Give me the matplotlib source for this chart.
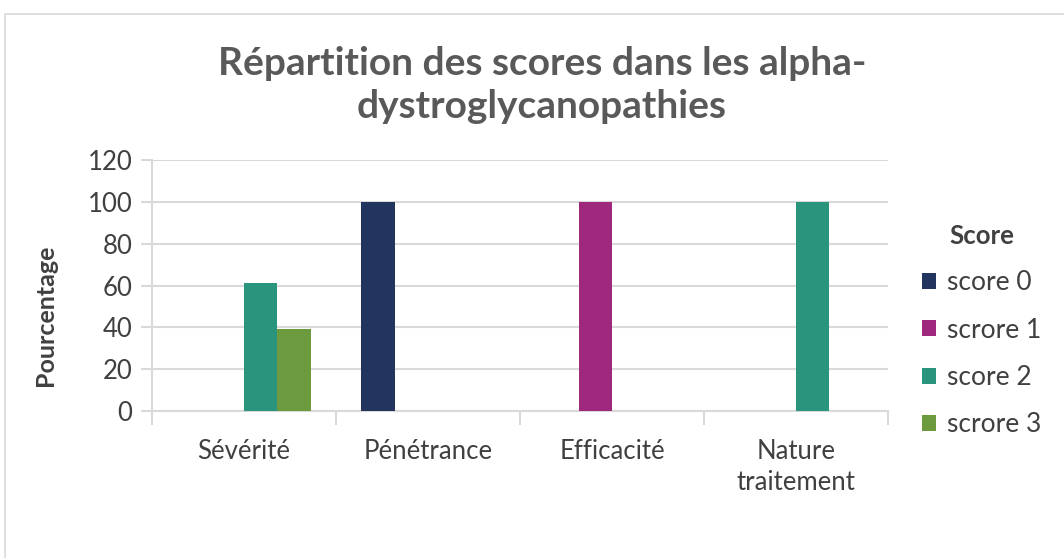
import matplotlib
matplotlib.use("Agg")
import matplotlib.pyplot as plt
import numpy as np
from matplotlib.patches import Rectangle

categories = ["Sévérité", "Pénétrance", "Efficacité", "Nature\ntraitement"]
series_names = ["score 0", "scrore 1", "score 2", "scrore 3"]
score0 = [0, 100, 0, 0]
score1 = [0, 0, 100, 0]
score2 = [61, 0, 0, 100]
score3 = [39, 0, 0, 0]
yticks = [0, 20, 40, 60, 80, 100, 120]
colors = ["#22355E", "#9E287B", "#2A947C", "#6B9A3F"]

plt.rcParams['font.family'] = ['Lato', 'DejaVu Sans']

W, H = 1064, 558
fig = plt.figure(figsize=(W / 100, H / 100), dpi=100)

# outer chart border
fig.patches.append(Rectangle((5 / W, -0.1), 1.2, 1 - 14 / H + 0.1,
                             transform=fig.transFigure, fill=False,
                             edgecolor="#D9D9D9", linewidth=1.2))

ax = fig.add_axes([152 / W, 1 - 411 / H, (888 - 152) / W, (411 - 160) / H])

x = np.arange(len(categories))
bw = 0.182
data = [score0, score1, score2, score3]
for i, (vals, name, c) in enumerate(zip(data, series_names, colors)):
    ax.bar(x + (i - 1.5) * bw, vals, width=bw, color=c, label=name, zorder=3)

ax.set_xlim(-0.5, len(categories) - 0.5)
ax.set_ylim(0, 120)
ax.set_yticks(yticks)
ax.set_yticklabels([str(v) for v in yticks])
ax.grid(axis="y", color="#D9D9D9", linewidth=1.5, zorder=0)
ax.tick_params(axis="y", length=8, width=1.5, color="#D9D9D9", pad=6,
               labelsize=18.5, labelcolor="#404040")

ax.set_xticks(x)
ax.set_xticklabels(categories, fontsize=18.5, color="#404040", linespacing=1.3)
ax.tick_params(axis="x", which="major", length=0, pad=20)
ax.set_xticks(np.arange(-0.5, len(categories)), minor=True)
ax.tick_params(axis="x", which="minor", length=10, width=1.5, color="#D9D9D9")

for s in ["top", "right"]:
    ax.spines[s].set_visible(False)
ax.spines["left"].set_color("#D9D9D9")
ax.spines["left"].set_linewidth(1.5)
ax.spines["bottom"].set_color("#D9D9D9")
ax.spines["bottom"].set_linewidth(1.5)

ax.set_ylabel("Pourcentage", fontsize=18, fontweight="bold", color="#404040")
ax.yaxis.set_label_coords((57 - 152) / (888 - 152), (411 - 315) / (411 - 160))

fig.text(542 / W, 1 - 85 / H, "Répartition des scores dans les alpha-\ndystroglycanopathies",
         ha="center", va="center", fontsize=28, fontweight="bold", color="#595959",
         linespacing=1.27)

leg = ax.legend(loc="upper left", bbox_to_anchor=(898 / W, 1 - 200 / H),
                bbox_transform=fig.transFigure, frameon=False, fontsize=19,
                title="Score", handlelength=0.55, handleheight=0.55, handletextpad=0.4,
                labelspacing=0.85)
leg.get_title().set_fontweight("bold")
leg.get_title().set_fontsize(18.5)
leg.get_title().set_color("#404040")
for t in leg.get_texts():
    t.set_color("#404040")

fig.savefig("out.png", dpi=100)
